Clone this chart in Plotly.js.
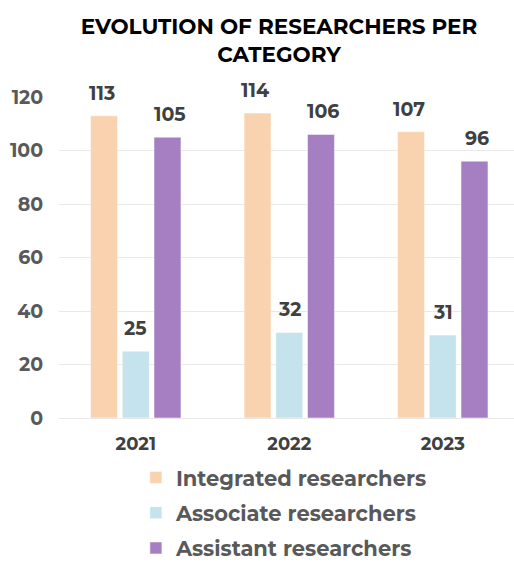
<!DOCTYPE html>
<html>
<head>
<meta charset="utf-8">
<script src="https://cdn.plot.ly/plotly-3.0.1.min.js"></script>
<style>html,body{margin:0;padding:0;background:#fff;}#chart{width:514px;height:569px;}</style>
</head>
<body>
<div id="chart"></div>
<script>
const years = ['2021', '2022', '2023'];
const integrated = [113, 114, 107];
const associate = [25, 32, 31];
const assistant = [105, 106, 96];
const seriesNames = ['Integrated researchers', 'Associate researchers', 'Assistant researchers'];
const seriesColors = ['rgb(249,210,176)', 'rgb(197,227,236)', 'rgb(166,127,194)'];
const yTicks = [0, 20, 40, 60, 80, 100, 120];

const FONT = 'Montserrat, "DejaVu Sans", sans-serif';
const series = [integrated, associate, assistant];
const shifts = [-34, 0, 34];

const traces = series.map((vals, i) => ({
  type: 'bar',
  x: years,
  y: vals,
  name: seriesNames[i],
  legendgroup: 'g' + i,
  marker: {color: seriesColors[i], line: {color: 'rgba(255,255,255,0.5)', width: 1}},
  hoverinfo: 'skip'
}));

const annotations = [];
series.forEach((vals, i) => {
  vals.forEach((v, j) => {
    annotations.push({
      x: j, y: v, xref: 'x', yref: 'y',
      text: String(v), showarrow: false,
      xshift: shifts[i], yshift: 9, yanchor: 'bottom',
      font: {family: FONT, size: 19, color: '#404040', weight: 'bold'}
    });
  });
});

const layout = {
  width: 514, height: 569,
  margin: {l: 59, r: 0, t: 97, b: 151},
  paper_bgcolor: '#fff', plot_bgcolor: '#fff',
  title: {
    text: 'EVOLUTION OF RESEARCHERS PER<br>CATEGORY',
    xref: 'container', x: 279/514, xanchor: 'center',
    yref: 'container', y: 1 - 34/569, yanchor: 'top',
    font: {family: FONT, size: 21.5, color: '#000', weight: 'bold'}
  },
  barmode: 'group',
  bargap: 0.38,
  bargroupgap: 0.15,
  xaxis: {
    type: 'category',
    range: [-0.5, 2.464],
    showgrid: false, zeroline: false, showline: false,
    ticks: 'outside', ticklen: 9, tickcolor: 'rgba(0,0,0,0)',
    tickangle: 0,
    tickfont: {family: FONT, size: 18, color: '#404040', weight: 'bold'}
  },
  yaxis: {
    range: [0, 120],
    tickvals: yTicks,
    showgrid: true, gridcolor: '#e9e9e9', gridwidth: 1,
    zeroline: true, zerolinecolor: '#e9e9e9', zerolinewidth: 1,
    showline: false,
    ticks: 'outside', ticklen: 11, tickcolor: 'rgba(0,0,0,0)',
    tickfont: {family: FONT, size: 19, color: '#595959', weight: 'bold'}
  },
  showlegend: true,
  legend: {
    orientation: 'v',
    x: 0.169, xanchor: 'left',
    y: -0.468, yanchor: 'bottom',
    traceorder: 'grouped',
    tracegroupgap: 5,
    font: {family: FONT, size: 21, color: '#595959', weight: 'bold'},
    itemwidth: 30
  },
  annotations: annotations
};

Plotly.newPlot('chart', traces, layout, {displayModeBar: false, staticPlot: true});
</script>
</body>
</html>
